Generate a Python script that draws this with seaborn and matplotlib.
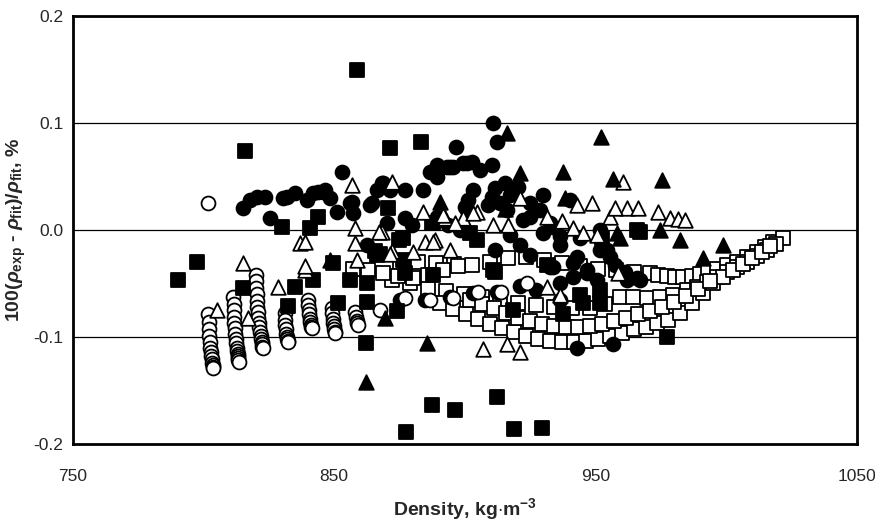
import seaborn as sns
import matplotlib.pyplot as plt
from matplotlib.ticker import FixedLocator

# Filled squares
fsq_x = [815.8, 871.3, 883.2, 858.7, 830.0, 840.7, 843.8, 870.5, 876.3, 887.4, 866.2, 876.3,
         797.5, 790.2, 815.1, 832.3, 835.0, 841.8, 849.5, 856.0, 862.5, 851.4, 862.5, 862.1,
         874.0, 867.5, 877.4, 887.4, 896.2, 912.3, 918.8, 929.5, 918.4, 937.5, 910.7, 887.8,
         951.7, 944.0, 951.7, 977.3, 911.5, 887.8, 901.9, 904.6, 967.0, 952.4, 965.8, 931.4,
         865.6, 875.0, 877.0, 945.2]
fsq_y = [0.074, 0.077, 0.082, 0.150, 0.003, 0.002, 0.012, 0.021, -0.007, 0.007, -0.023, -0.028,
         -0.030, -0.047, -0.054, -0.071, -0.053, -0.047, -0.031, -0.047, -0.050, -0.068, -0.067, -0.106,
         -0.076, -0.022, -0.189, -0.164, -0.168, -0.156, -0.186, -0.185, -0.075, -0.079, -0.037, -0.042,
         -0.056, -0.061, -0.068, -0.100, -0.039, 0.007, -0.003, -0.009, -0.002, -0.007, 0.000, -0.033,
         -0.020, -0.009, -0.040, -0.068]

# Filled circles
fci_x = [815.1, 817.7, 820.4, 823.5, 825.4, 830.4, 835.0, 839.5, 843.8, 846.4, 848.4, 851.0,
         853.0, 856.0, 857.2, 863.7, 866.3, 868.6, 870.2, 862.5, 877.1, 877.1, 879.7, 884.0,
         886.6, 890.4, 893.1, 910.7, 912.3, 896.6, 889.3, 894.3, 899.3, 902.7, 905.8, 910.3,
         915.3, 911.5, 920.3, 917.2, 910.3, 908.8, 913.4, 916.1, 901.2, 900.8, 924.9, 929.9,
         928.7, 940.2, 924.9, 922.2, 932.5, 929.9, 936.4, 889.3, 941.4, 946.7, 950.5, 951.7,
         944.0, 933.7, 936.4, 955.5, 942.9, 962.0, 967.0, 954.3, 965.8, 942.9, 956.7,
         875.1, 884.7, 894.3, 903.1, 912.3, 921.1,
         831.9, 841.8, 845.7, 856.8, 864.4, 868.3, 871.3, 889.3, 895.4, 900.8, 903.1, 900.0,
         898.1, 893.5, 932.5, 946.7, 941.4, 933.7, 936.4, 921.1, 924.9, 917.2, 911.5, 927.2,
         936.4, 951.7, 957.4, 961.2]
fci_y = [0.021, 0.028, 0.031, 0.031, 0.011, 0.030, 0.035, 0.028, 0.036, 0.037, 0.030, 0.017,
         0.054, 0.025, 0.016, 0.023, 0.037, 0.044, 0.007, -0.014, 0.037, 0.011, 0.005, 0.037,
         0.054, 0.058, 0.059, 0.100, 0.082, 0.078, 0.061, 0.059, 0.063, 0.064, 0.056, 0.061,
         0.044, 0.039, 0.040, 0.033, 0.031, 0.023, 0.025, 0.019, 0.028, 0.019, 0.025, 0.033,
         0.019, 0.028, 0.012, 0.009, 0.007, -0.003, -0.006, 0.012, -0.031, -0.040, -0.047, -0.019,
         -0.007, -0.035, -0.050, -0.025, -0.025, -0.047, -0.047, -0.019, -0.045, -0.110, -0.107,
         -0.065, -0.065, -0.063, -0.059, -0.058, -0.052,
         0.031, 0.035, 0.036, 0.026, 0.025, 0.044, 0.037, 0.050, 0.059, 0.063, 0.037, 0.022,
         0.000, 0.005, -0.035, -0.037, -0.044, 0.003, -0.014, -0.014, -0.023, -0.005, -0.019, -0.056,
         -0.065, 0.000, -0.033, -0.039]

# Filled triangles
ftr_x = [916.1, 952.0, 921.0, 937.5, 956.7, 975.4, 890.4, 938.3, 915.3, 974.6, 982.3, 998.8,
         991.1, 959.3, 958.2, 862.1, 885.5, 869.4, 848.4]
ftr_y = [0.091, 0.087, 0.053, 0.054, 0.048, 0.047, 0.026, 0.030, 0.020, 0.000, -0.009, -0.014,
         -0.026, -0.007, -0.003, -0.142, -0.106, -0.082, -0.028]

# Open triangles
otr_x = [805.1, 815.1, 817.0, 828.4, 838.8, 857.9, 868.3, 884.0, 884.7, 872.1, 858.7, 836.9,
         856.8, 872.1, 838.8, 857.9, 904.6, 910.7, 916.5, 931.4, 937.1, 942.9, 948.6, 955.5,
         960.5, 962.0, 966.2, 957.4, 892.4, 899.3, 888.5, 941.4, 945.2, 950.5, 973.9, 978.5,
         981.5, 984.2, 906.9, 916.1, 921.0, 958.6, 931.4, 936.4, 871.3, 894.3, 887.8, 880.1,
         921.0, 838.8, 891.6, 896.2, 903.1, 867.0]
otr_y = [-0.075, -0.031, -0.082, -0.053, -0.037, 0.002, -0.002, 0.017, -0.011, -0.020, -0.028, -0.012,
         0.042, 0.045, -0.011, -0.012, 0.017, 0.005, 0.005, 0.012, 0.008, 0.023, 0.025, 0.012,
         0.045, 0.021, 0.021, 0.021, 0.011, 0.011, -0.009, 0.002, -0.003, -0.005, 0.017, 0.011,
         0.010, 0.009, -0.111, -0.107, -0.114, -0.040, -0.053, -0.061, -0.022, -0.019, -0.011, -0.021,
         0.030, -0.034, 0.014, 0.007, 0.016, -0.002]

# Open squares, read as five runs
osq1_x = [875.1, 882.0, 888.9, 895.8, 902.7, 909.6, 916.5, 923.4, 930.3, 937.1, 944.0, 950.9,
          957.8, 964.7, 970.8, 973.9, 977.3, 980.4, 983.4, 986.9, 990.0, 993.0, 996.5, 1000.3,
          1004.1, 1007.9, 1011.8, 1014.8, 1017.9, 1021.7]
osq1_y = [-0.030, -0.030, -0.031, -0.032, -0.033, -0.030, -0.026, -0.025, -0.028, -0.031, -0.034, -0.036,
          -0.037, -0.039, -0.040, -0.042, -0.043, -0.044, -0.044, -0.043, -0.041, -0.039, -0.036, -0.033,
          -0.030, -0.025, -0.021, -0.016, -0.011, -0.007]
osq2_x = [872.1, 879.0, 885.9, 892.7, 899.6, 906.5, 913.4, 920.3, 927.2, 934.1, 941.0, 947.9,
          953.6, 959.3, 964.3, 969.7, 974.6, 979.6, 985.0, 988.8, 992.6, 996.5, 1000.3, 1004.1,
          1007.9, 1011.8, 1015.6, 1019.0]
osq2_y = [-0.047, -0.050, -0.054, -0.057, -0.060, -0.063, -0.065, -0.068, -0.070, -0.072, -0.073, -0.073,
          -0.069, -0.063, -0.063, -0.064, -0.063, -0.061, -0.056, -0.053, -0.049, -0.044, -0.039, -0.035,
          -0.030, -0.024, -0.019, -0.013]
osq3_x = [890.4, 895.4, 900.4, 905.0, 909.6, 914.2, 918.8, 923.4, 928.0, 932.5, 937.1, 941.7,
          946.3, 950.9, 955.5, 960.1, 964.7, 969.3, 973.5, 977.7, 982.3, 986.9, 991.1, 994.9,
          998.8, 1002.6, 1006.4, 1009.9, 1013.7, 1016.7]
osq3_y = [-0.068, -0.074, -0.079, -0.083, -0.088, -0.092, -0.095, -0.099, -0.102, -0.104, -0.105, -0.105,
          -0.104, -0.102, -0.099, -0.096, -0.093, -0.091, -0.087, -0.084, -0.078, -0.068, -0.059, -0.050,
          -0.044, -0.037, -0.032, -0.026, -0.021, -0.015]
osq4_x = [901.9, 906.5, 911.1, 915.7, 920.3, 924.9, 929.5, 934.1, 938.7, 943.3, 947.9, 952.4,
          957.0, 961.6, 966.2, 970.8, 975.4, 980.0, 984.6, 989.2, 993.8]
osq4_y = [-0.065, -0.069, -0.073, -0.078, -0.082, -0.085, -0.088, -0.090, -0.091, -0.091, -0.090, -0.088,
          -0.085, -0.082, -0.079, -0.076, -0.072, -0.067, -0.062, -0.055, -0.048]
osq5_x = [857.2, 862.9, 868.6, 874.4, 880.1, 885.9, 891.6, 897.3]
osq5_y = [-0.036, -0.037, -0.040, -0.043, -0.045, -0.042, -0.037, -0.034]

# Open circles: a lone point, seven stacked columns, then a sparse run
oci_x = [801.7,
         801.8, 801.9, 802.0, 802.1, 802.3, 802.5, 802.7, 802.9, 803.1, 803.3, 803.5, 803.6, 803.7,
         811.4, 811.5, 811.6, 811.7, 811.8, 811.9, 812.1, 812.3, 812.5, 812.7, 812.9, 813.0, 813.1, 813.2, 813.3, 813.4,
         820.0, 820.1, 820.2, 820.3, 820.4, 820.6, 820.8, 821.0, 821.2, 821.4, 821.6, 821.8, 822.0, 822.2, 822.4, 822.5, 822.6,
         831.0, 831.1, 831.2, 831.4, 831.6, 831.8, 832.0, 832.2, 832.3,
         840.0, 840.1, 840.3, 840.5, 840.7, 840.9, 841.1, 841.3, 841.4,
         849.0, 849.2, 849.4, 849.6, 849.8, 850.0, 850.2, 850.3,
         858.0, 858.3, 858.6, 858.8, 859.0,
         867.5, 877.0, 886.6, 895.4, 905.0, 914.0, 923.7]
oci_y = [0.025,
         -0.079, -0.086, -0.093, -0.099, -0.105, -0.110, -0.114, -0.118, -0.121, -0.124, -0.126, -0.128, -0.129,
         -0.063, -0.069, -0.075, -0.081, -0.087, -0.092, -0.097, -0.102, -0.106, -0.110, -0.113, -0.116, -0.118, -0.120, -0.122, -0.123,
         -0.042, -0.048, -0.054, -0.060, -0.066, -0.072, -0.077, -0.082, -0.087, -0.091, -0.095, -0.099, -0.102, -0.105, -0.107, -0.109, -0.110,
         -0.078, -0.084, -0.089, -0.093, -0.097, -0.100, -0.102, -0.104, -0.105,
         -0.065, -0.070, -0.075, -0.079, -0.083, -0.086, -0.089, -0.091, -0.092,
         -0.073, -0.078, -0.083, -0.087, -0.090, -0.093, -0.095, -0.096,
         -0.077, -0.081, -0.085, -0.087, -0.089,
         -0.075, -0.064, -0.065, -0.064, -0.058, -0.058, -0.050]

x_labeled = [750, 850, 950, 1050]
x_unlabeled = [800, 900, 1000]
y_ticks = [-0.2, -0.1, 0.0, 0.1, 0.2]

sns.set_style('white')
plt.rcParams['font.family'] = ['Liberation Sans', 'DejaVu Sans']
plt.rcParams['mathtext.fontset'] = 'custom'
plt.rcParams['mathtext.rm'] = 'Liberation Sans:bold'
plt.rcParams['mathtext.it'] = 'Liberation Sans:bold:italic'
plt.rcParams['mathtext.bf'] = 'Liberation Sans:bold'

fig, ax = plt.subplots(figsize=(8.75, 5.24), dpi=100)
fig.subplots_adjust(left=0.0834, right=0.979, top=0.969, bottom=0.153)

for yv in [0.1, 0.0, -0.1]:
    ax.axhline(yv, color='black', lw=0.9, zorder=1)

ms = 100
lw = 1.3
for xs, ys in [(osq1_x, osq1_y), (osq2_x, osq2_y), (osq3_x, osq3_y), (osq4_x, osq4_y), (osq5_x, osq5_y)]:
    sns.scatterplot(x=xs, y=ys, marker='s', s=ms, color='white', edgecolor='black', linewidth=lw, ax=ax, zorder=2)
sns.scatterplot(x=fci_x, y=fci_y, marker='o', s=ms, color='black', edgecolor='black', linewidth=lw, ax=ax, zorder=3)
sns.scatterplot(x=oci_x, y=oci_y, marker='o', s=ms, color='white', edgecolor='black', linewidth=lw, ax=ax, zorder=4)
sns.scatterplot(x=fsq_x, y=fsq_y, marker='s', s=ms, color='black', edgecolor='black', linewidth=lw, ax=ax, zorder=5)
sns.scatterplot(x=otr_x, y=otr_y, marker='^', s=ms * 1.1, color='white', edgecolor='black', linewidth=lw, ax=ax, zorder=6)
sns.scatterplot(x=ftr_x, y=ftr_y, marker='^', s=ms * 1.1, color='black', edgecolor='black', linewidth=lw, ax=ax, zorder=7)

ax.set_xlim(750, 1050)
ax.set_ylim(-0.2, 0.2)
ax.xaxis.set_major_locator(FixedLocator(x_labeled))
ax.xaxis.set_minor_locator(FixedLocator(x_unlabeled))
ax.set_yticks(y_ticks)
ax.set_yticklabels([f'{v:.1f}' for v in y_ticks])
ax.tick_params(axis='x', which='both', direction='in', length=5, width=1.5, pad=18, labelsize=12.5)
ax.tick_params(axis='y', which='both', length=0, pad=7, labelsize=12.5)

for sp in ax.spines.values():
    sp.set_linewidth(2)
    sp.set_color('black')

ax.set_xlabel(r'Density, kg$\cdot$m$^{-3}$', fontsize=14, fontweight='bold', labelpad=9)
ax.set_ylabel(r'100($\rho_{\rm exp}$ - $\rho_{\rm fit}$)/$\rho_{\rm fit}$, %', fontsize=14, fontweight='bold', labelpad=4)

plt.savefig('out.png', dpi=100)
